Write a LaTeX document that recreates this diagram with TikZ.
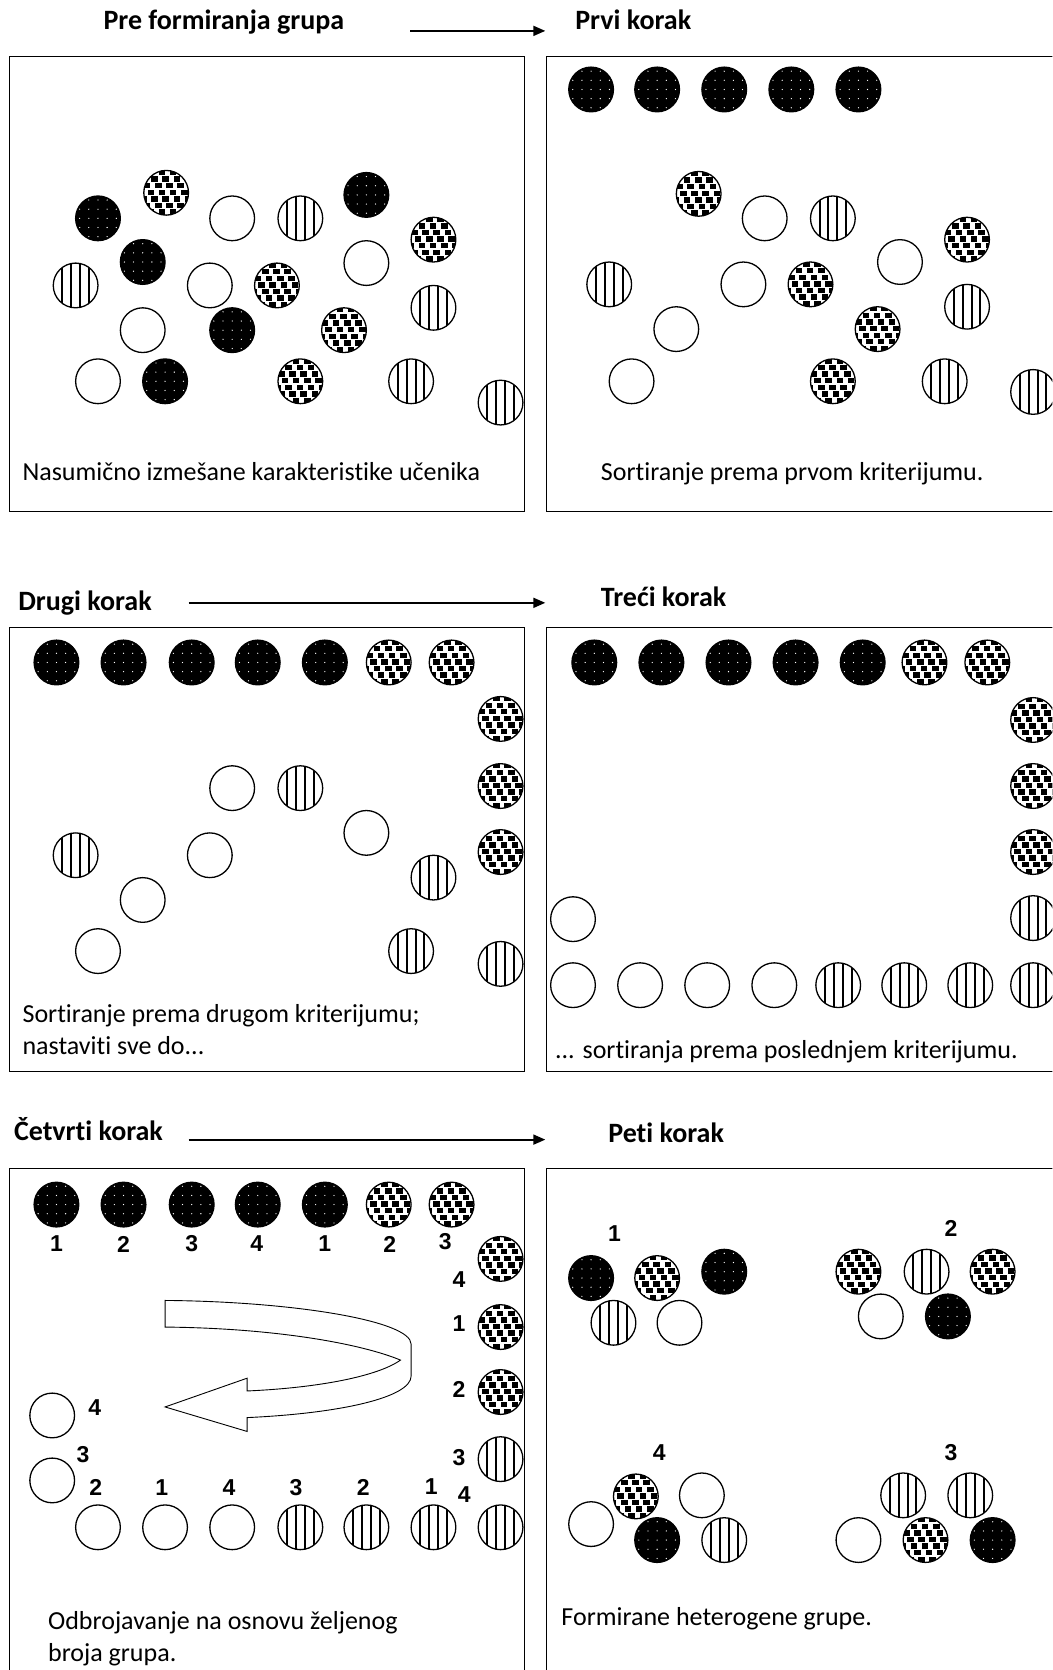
\documentclass[tikz,border=0pt]{standalone}
\usepackage{fontspec}
\setmainfont{Carlito}[Ligatures=NoCommon]
\newfontfamily\numfont{Liberation Sans}
\usetikzlibrary{arrows.meta}

\tikzset{
  frame/.style={draw, line width=1pt},
  disc/.style={circle, draw, line width=1.3pt, minimum size=44.7pt,
    inner sep=0pt, outer sep=0pt, fill=white},
  % black disc with a grid of small white dots
  dark/.style={disc, fill=black, path picture={
    \begin{scope}[shift={(path picture bounding box.center)}]
      \foreach \i in {-2,...,2}
        \foreach \j in {-2,...,2}
          \fill[white] (\i*8.6,\j*8.6) circle (0.65pt);
    \end{scope}}},
  % disc filled with staggered black bricks
  brick/.style={disc, path picture={
    \begin{scope}[shift={(path picture bounding box.center)}]
      \foreach \j in {-4,...,4}{
        \pgfmathsetmacro\off{3.5*mod(\j+9,3)}
        \foreach \i in {-3,...,3}
          \fill[black] (\i*10.5+\off-7,\j*6.2-3) rectangle ++(6.2,5);
      }
    \end{scope}}},
  % disc with vertical stripes
  lined/.style={disc, path picture={
    \begin{scope}[shift={(path picture bounding box.center)}]
      \foreach \x in {-12.5,-4.2,4.2,12.5}
        \draw[black, line width=2pt] (\x,-25) -- (\x,25);
    \end{scope}}},
  plain/.style={disc},
  title/.style={anchor=base west, inner sep=0pt, font=\fontsize{28}{32}\selectfont\bfseries},
  caption/.style={anchor=base west, inner sep=0pt, font=\fontsize{26}{30}\selectfont},
  num/.style={inner sep=0pt, font=\numfont\fontsize{23}{26}\selectfont\bfseries},
  flow/.style={line width=1.8pt, -{Triangle[length=12pt,width=10pt]}}
}

\begin{document}
\begin{tikzpicture}[x=1.0648pt, y=-1.0648pt]
\useasboundingbox (0,0) rectangle (988,1568);
\clip (0,0) rectangle (988,1568);
\fill[white] (0,0) rectangle (988,1568);

% ---------- headings and step arrows ----------
\node[title] (t1) at (97,28) {Pre formiranja grupa};
\node[title] (t2) at (540,28) {Prvi korak};
\node[title] (t3) at (17,573) {Drugi korak};
\node[title] (t4) at (564,569) {Treći korak};
\node[title] (t5) at (13,1071) {Četvrti korak};
\node[title] (t6) at (571,1073) {Peti korak};

\coordinate (a1s) at (385,29);  \coordinate (a1e) at (512,29);
\coordinate (a2s) at (177,566); \coordinate (a2e) at (512,566);
\coordinate (a3s) at (177,1070);\coordinate (a3e) at (512,1070);
\draw[flow] (a1s) -- (a1e);
\draw[flow] (a2s) -- (a2e);
\draw[flow] (a3s) -- (a3e);

% ---------- frames ----------
\draw[frame] (9,53) rectangle (492,480);
\draw[frame] (513,53) rectangle (1000,480);
\draw[frame] (9,589) rectangle (492,1006);
\draw[frame] (513,589) rectangle (1000,1006);
\draw[frame] (9,1097) rectangle (492,1600);
\draw[frame] (513,1097) rectangle (1000,1600);

% ---------- panel 1: mixed ----------
\foreach \x/\y [count=\k] in {92/205,344/183,134/246,218/310,155/358}
  \node[dark] (pa-d\k) at (\x,\y) {};
\foreach \x/\y [count=\k] in {156/181,407/225,260/268,323/310,282/358}
  \node[brick] (pa-b\k) at (\x,\y) {};
\foreach \x/\y [count=\k] in {218/205,197/268,344/247,134/310,92/358}
  \node[plain] (pa-p\k) at (\x,\y) {};
\foreach \x/\y [count=\k] in {282/205,71/268,407/289,386/358,470/378}
  \node[lined] (pa-l\k) at (\x,\y) {};
\node[caption] (ca) at (21,451) {Nasumično izmešane karakteristike učenika};

% ---------- panel 2: first criterion ----------
\foreach \x [count=\k] in {555,617,680,743,806}
  \node[dark] (pb-d\k) at (\x,84) {};
\foreach \x/\y [count=\k] in {656/182,908/225,761/267,824/309,782/358}
  \node[brick] (pb-b\k) at (\x,\y) {};
\foreach \x/\y [count=\k] in {718/205,845/246,698/267,635/309,593/358}
  \node[plain] (pb-p\k) at (\x,\y) {};
\foreach \x/\y [count=\k] in {782/205,572/267,908/288,887/358,970/368}
  \node[lined] (pb-l\k) at (\x,\y) {};
\node[caption] (cb) at (564,451) {Sortiranje prema prvom kriterijumu.};

% ---------- panel 3: second criterion ----------
\foreach \x [count=\k] in {53,116,180,242,305}
  \node[dark] (pc-d\k) at (\x,622) {};
\foreach \x/\y [count=\k] in {365/622,424/622,470/675,470/738,470/800}
  \node[brick] (pc-b\k) at (\x,\y) {};
\foreach \x/\y [count=\k] in {218/740,344/782,197/803,134/845,92/893}
  \node[plain] (pc-p\k) at (\x,\y) {};
\foreach \x/\y [count=\k] in {282/740,71/803,407/824,386/893,470/905}
  \node[lined] (pc-l\k) at (\x,\y) {};
\node[caption] (cc1) at (21,960) {Sortiranje prema drugom kriterijumu;};
\node[caption] (cc2) at (21,990) {nastaviti sve do...};

% ---------- panel 4: last criterion ----------
\foreach \x [count=\k] in {558,621,684,747,810}
  \node[dark] (pd-d\k) at (\x,622) {};
\foreach \x/\y [count=\k] in {868/622,927/622,970/676,970/738,970/800}
  \node[brick] (pd-b\k) at (\x,\y) {};
\foreach \x/\y [count=\k] in {538/863,538/925,601/925,664/925,727/925}
  \node[plain] (pd-p\k) at (\x,\y) {};
\foreach \x/\y [count=\k] in {970/862,787/925,849/925,911/925,970/925}
  \node[lined] (pd-l\k) at (\x,\y) {};
\node[caption] (cd) at (521,994) {... sortiranja prema poslednjem kriterijumu.};

% ---------- panel 5: counting off ----------
\foreach \x [count=\k] in {53,116,180,242,305}
  \node[dark] (pe-d\k) at (\x,1131) {};
\foreach \x/\y [count=\k] in {365/1131,424/1131,470/1182,470/1246,470/1307}
  \node[brick] (pe-b\k) at (\x,\y) {};
\foreach \x/\y [count=\k] in {49/1329,49/1390,92/1434,155/1434,218/1434}
  \node[plain] (pe-p\k) at (\x,\y) {};
\foreach \x/\y [count=\k] in {470/1370,282/1434,344/1434,407/1434,470/1434}
  \node[lined] (pe-l\k) at (\x,\y) {};

\foreach \x/\y/\n [count=\k] in {53/1168/1,116/1168/2,180/1168/3,241/1168/4,
    305/1168/1,366/1168/2,418/1166/3,431/1201/4,431/1243/1,431/1305/2,
    431/1369/3,436/1403/4,405/1396/1,341/1397/2,278/1397/3,215/1397/4,
    152/1397/1,90/1397/2,78/1366/3,89/1322/4}
  \node[num] (pe-n\k) at (\x,\y) {\n};

% U-turn ribbon arrow
\draw[line width=0.9pt, fill=white, line join=miter]
  (155,1221) .. controls (275,1222) and (386,1240) .. (386,1262)
  -- (386,1292)
  .. controls (386,1312) and (320,1327) .. (232,1331)
  -- (232,1344) -- (155,1321) -- (232,1294) -- (232,1306)
  .. controls (300,1303) and (355,1292) .. (376,1277)
  .. controls (340,1262) and (260,1247) .. (155,1246)
  -- cycle;

\node[caption] (ce1) at (45,1530) {Odbrojavanje na osnovu željenog};
\node[caption] (ce2) at (45,1560) {broja grupa.};

% ---------- panel 6: formed groups ----------
\foreach \x/\y [count=\k] in {555/1200,680/1194,890/1236,617/1446,932/1446}
  \node[dark] (pf-d\k) at (\x,\y) {};
\foreach \x/\y [count=\k] in {617/1200,806/1194,932/1194,597/1405,869/1446}
  \node[brick] (pf-b\k) at (\x,\y) {};
\foreach \x/\y [count=\k] in {638/1242,827/1236,555/1431,659/1404,806/1446}
  \node[plain] (pf-p\k) at (\x,\y) {};
\foreach \x/\y [count=\k] in {576/1242,870/1194,680/1446,848/1404,911/1404}
  \node[lined] (pf-l\k) at (\x,\y) {};
\node[num] (g1) at (577,1158) {1};
\node[num] (g2) at (893,1153) {2};
\node[num] (g4) at (619,1364) {4};
\node[num] (g3) at (893,1364) {3};
\node[caption] (cf) at (527,1526) {Formirane heterogene grupe.};
\end{tikzpicture}
\end{document}
